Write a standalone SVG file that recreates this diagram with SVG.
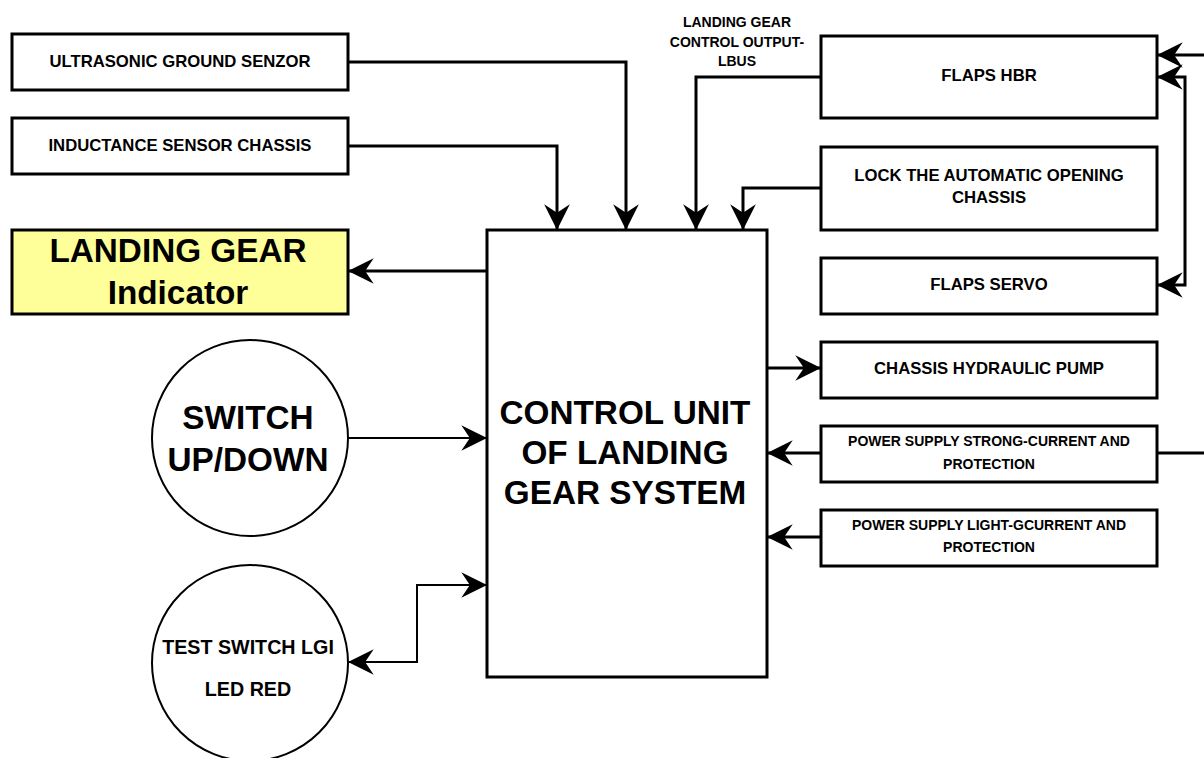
<svg xmlns="http://www.w3.org/2000/svg" width="1204" height="758" viewBox="0 0 1204 758">
<style>
.box{fill:#fff;stroke:#000;stroke-width:3}
.ind{fill:#ffff99;stroke:#000;stroke-width:3}
.circ{fill:#fff;stroke:#000;stroke-width:2}
.t{font-family:"Liberation Sans",Arial,sans-serif;font-weight:bold;fill:#000;text-anchor:middle}
.c{fill:none;stroke:#000;stroke-width:3}
.c2{fill:none;stroke:#000;stroke-width:2}
</style>
<defs>
<marker id="ah" markerUnits="userSpaceOnUse" markerWidth="30" markerHeight="30" viewBox="-26 -14 28 28" refX="0" refY="0" orient="auto-start-reverse">
<path d="M0,0 L-24,-12 L-16,0 L-24,12 Z" fill="#000"/>
</marker>
</defs>
<rect width="1204" height="758" fill="#fff"/>
<g id="connectors">
<path class="c" d="M348,62 L626,62 L626,230" marker-end="url(#ah)"/>
<path class="c" d="M348,146 L557,146 L557,230" marker-end="url(#ah)"/>
<path class="c" d="M821,77 L696,77 L696,230" marker-end="url(#ah)"/>
<path class="c" d="M821,188 L743,188 L743,230" marker-end="url(#ah)"/>
<path class="c" d="M487,271 L348,271" marker-end="url(#ah)"/>
<path class="c2" d="M348,438 L487,438" marker-end="url(#ah)"/>
<path class="c2" d="M487,585 L417,585 L417,662 L348,662" marker-start="url(#ah)" marker-end="url(#ah)"/>
<path class="c" d="M767,368 L821,368" marker-end="url(#ah)"/>
<path class="c" d="M821,453 L767,453" marker-end="url(#ah)"/>
<path class="c" d="M821,537 L767,537" marker-end="url(#ah)"/>
<path class="c" d="M1157,453 L1204,453"/>
<path class="c" d="M1204,55 L1157,55" marker-end="url(#ah)"/>
<path class="c" d="M1157,77 L1185,77 L1185,285 L1157,285" marker-start="url(#ah)" marker-end="url(#ah)"/>
</g>
<g id="ultrasonic"><rect class="box" x="12" y="34" width="336" height="56"/><text class="t" x="180" y="67" font-size="16.7">ULTRASONIC GROUND SENZOR</text></g>
<g id="inductance"><rect class="box" x="12" y="118" width="336" height="56"/><text class="t" x="180" y="151" font-size="16.7">INDUCTANCE SENSOR CHASSIS</text></g>
<g id="indicator"><rect class="ind" x="12" y="230" width="336" height="84"/><text class="t" x="178" y="262" font-size="33.3">LANDING GEAR</text><text class="t" x="178" y="304" font-size="33.3">Indicator</text></g>
<g id="switch"><circle class="circ" cx="250" cy="438" r="98"/><text class="t" x="248" y="429" font-size="33.3">SWITCH</text><text class="t" x="248" y="471" font-size="33.3">UP/DOWN</text></g>
<g id="test"><circle class="circ" cx="250" cy="663" r="98"/><text class="t" x="248" y="654" font-size="19.7">TEST SWITCH LGI</text><text class="t" x="248" y="696" font-size="19.7">LED RED</text></g>
<g id="control"><rect class="box" x="487" y="230" width="280" height="447"/><text class="t" x="625" y="424" font-size="33.3">CONTROL UNIT</text><text class="t" x="625" y="464" font-size="33.3">OF LANDING</text><text class="t" x="625" y="504" font-size="33.3">GEAR SYSTEM</text></g>
<g id="lbus-label"><text class="t" x="737" y="27" font-size="14">LANDING GEAR</text><text class="t" x="737" y="47" font-size="14">CONTROL OUTPUT-</text><text class="t" x="737" y="66" font-size="14">LBUS</text></g>
<g id="flaps-hbr"><rect class="box" x="821" y="36" width="336" height="82"/><text class="t" x="989" y="81" font-size="16.7">FLAPS HBR</text></g>
<g id="lock"><rect class="box" x="821" y="147" width="336" height="83"/><text class="t" x="989" y="181" font-size="16.7">LOCK THE AUTOMATIC OPENING</text><text class="t" x="989" y="203" font-size="16.7">CHASSIS</text></g>
<g id="flaps-servo"><rect class="box" x="821" y="258" width="336" height="56"/><text class="t" x="989" y="290" font-size="16.7">FLAPS SERVO</text></g>
<g id="pump"><rect class="box" x="821" y="342" width="336" height="56"/><text class="t" x="989" y="374" font-size="16.7">CHASSIS HYDRAULIC PUMP</text></g>
<g id="power-strong"><rect class="box" x="821" y="426" width="336" height="56"/><text class="t" x="989" y="446" font-size="14">POWER SUPPLY STRONG-CURRENT AND</text><text class="t" x="989" y="469" font-size="14">PROTECTION</text></g>
<g id="power-light"><rect class="box" x="821" y="510" width="336" height="56"/><text class="t" x="989" y="530" font-size="14">POWER SUPPLY LIGHT-GCURRENT AND</text><text class="t" x="989" y="552" font-size="14">PROTECTION</text></g>
</svg>
